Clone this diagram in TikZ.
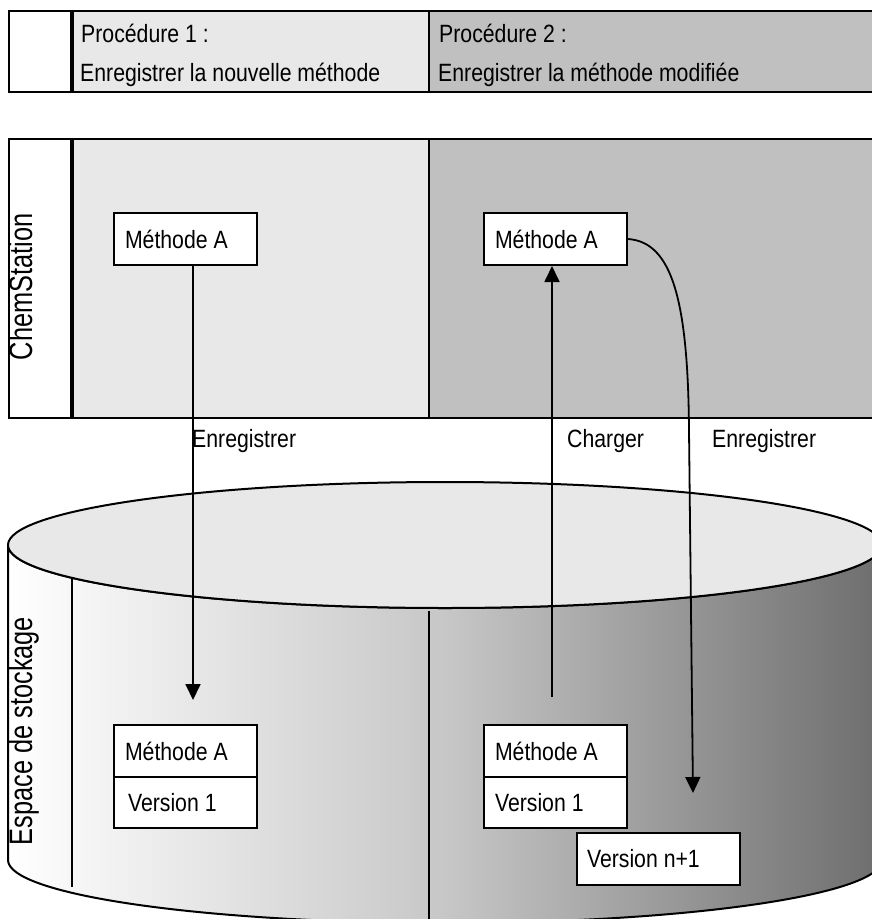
\documentclass[tikz,border=0pt]{standalone}
\usepackage{fontspec}
\setmainfont{Liberation Sans}[FakeStretch=0.85]
\newfontfamily\rotfont{Liberation Sans}[FakeStretch=0.78]
\usetikzlibrary{arrows.meta}
\definecolor{lightg}{HTML}{E8E8E8}
\definecolor{darkg}{HTML}{C0C0C0}
\begin{document}
\begin{tikzpicture}[x=1pt,y=-1pt,
  lbl/.style={font=\fontsize{25}{30}\selectfont, inner sep=0pt},
  rotlbl/.style={font=\rotfont\fontsize{32.5}{38}\selectfont, inner sep=0pt, rotate=90, anchor=base},
  mbox/.style={draw, fill=white, line width=2pt, anchor=north west, minimum height=52pt,
    inner xsep=11pt, inner ysep=0pt, text width=121pt, align=flush left,
    font=\fontsize{25}{30}\selectfont},
  arr/.style={line width=1.8pt, -{Triangle[length=16pt,width=15pt]}},
  border/.style={line width=2.2pt},
  thickdiv/.style={line width=4pt},
  thindiv/.style={line width=1.7pt}
]
\useasboundingbox (0,0) rectangle (872,919);
\clip (0,0) rectangle (872,919);

% ---------- header ----------
\fill[white] (9,11) rectangle (72,92);
\fill[lightg] (72,11) rectangle (429,92);
\fill[darkg] (429,11) rectangle (880,92);
\draw[border] (9,11) rectangle (880,92);
\draw[thickdiv] (72,11) -- (72,92);
\draw[thindiv] (429,11) -- (429,92);
\node[lbl, anchor=base west] (p1a) at (81,42) {Procédure 1 :};
\node[lbl, anchor=base west] (p1b) at (80,81) {Enregistrer la nouvelle méthode};
\node[lbl, anchor=base west] (p2a) at (439,42) {Procédure 2 :};
\node[lbl, anchor=base west] (p2b) at (438,81) {Enregistrer la méthode modifiée};

% ---------- ChemStation panel ----------
\fill[white] (9,139) rectangle (72,418);
\fill[lightg] (72,139) rectangle (429,418);
\fill[darkg] (429,139) rectangle (880,418);
\draw[border] (9,139) rectangle (880,418);
\draw[thickdiv] (72,139) -- (72,418);
\draw[thindiv] (429,139) -- (429,418);
\node[rotlbl] (chem) at (32,287) {ChemStation};

% ---------- storage cylinder ----------
\path[draw, line width=2pt, left color=white, right color=black!57, middle color=black!22]
  (8,545) -- (8,860) arc[start angle=180, end angle=0, x radius=437, y radius=63]
  -- (882,545) arc[start angle=0, end angle=180, x radius=437, y radius=63] -- cycle;
\draw[fill=lightg, line width=2pt] (445,545) ellipse[x radius=437, y radius=63];
\draw[thindiv] (72,578) -- (72,887);
\draw[thindiv] (429,611) -- (429,925);
\node[rotlbl] (store) at (32,731) {Espace de stockage};

% ---------- boxes ----------
\node[mbox] (m1) at (113,212) {Méthode A};
\node[mbox] (m2) at (483,212) {Méthode A};
\node[mbox] (s1m) at (113,724) {Méthode A};
\node[mbox, minimum height=51pt] (s1v) at (113,776) {\hspace*{3pt}Version 1};
\node[mbox] (s2m) at (483,724) {Méthode A};
\node[mbox, minimum height=51pt] (s2v) at (483,776) {Version 1};
\node[mbox, text width=143pt, inner xsep=10pt] (s3) at (576,832) {Version n+1};

% ---------- connectors ----------
\coordinate (t1) at (193,700);
\coordinate (c0) at (552,697);
\coordinate (t2) at (693,793);
\draw[arr] (m1.south -| t1) -- (t1);
\draw[arr] (c0) -- (c0 |- m2.south);
\draw[arr] (m2.east) .. controls (672,242) and (688,300) .. (689,430) -- (t2);

% ---------- labels ----------
\node[lbl, anchor=base west] (l1) at (192,447) {Enregistrer};
\node[lbl, anchor=base west] (l2) at (567,447) {Charger};
\node[lbl, anchor=base west] (l3) at (712,447) {Enregistrer};
\end{tikzpicture}
\end{document}
